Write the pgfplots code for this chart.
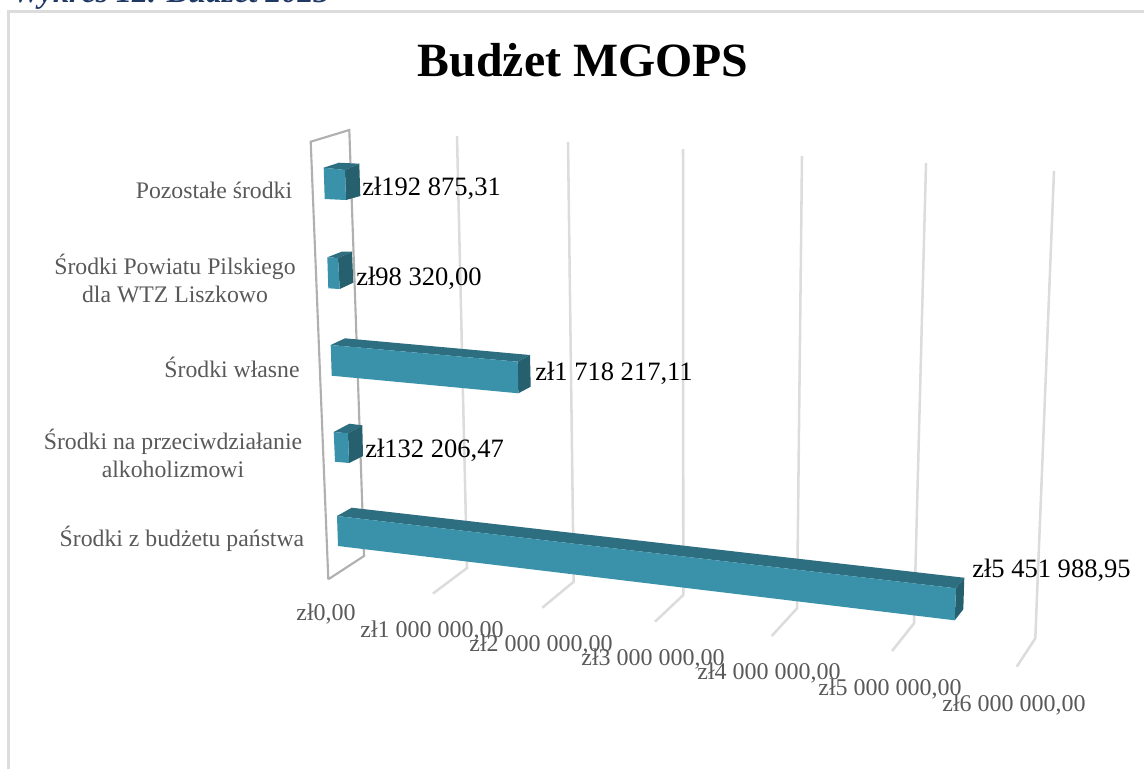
\documentclass[border=0pt]{standalone}
\usepackage{pgfplots}
\pgfplotsset{compat=1.18}
\usepackage{fontspec}
\setmainfont{Liberation Serif}
\definecolor{front}{RGB}{58,146,170}
\definecolor{topf}{RGB}{45,110,128}
\definecolor{sidef}{RGB}{38,95,110}
\definecolor{gridc}{RGB}{220,220,220}
\definecolor{wall}{RGB}{176,176,176}
\definecolor{lab}{RGB}{89,89,89}
\definecolor{navy}{RGB}{31,56,100}
\newcommand{\fcat}{\fontsize{17.8}{21}\selectfont}
\newcommand{\ftic}{\fontsize{18}{21}\selectfont}
\newcommand{\fdat}{\fontsize{19.9}{23}\selectfont}
\tikzset{
  cat/.style={text=lab,font=\fcat,align=center,anchor=center,inner sep=0pt},
  tic/.style={text=lab,font=\ftic,anchor=base,inner sep=0pt},
  dat/.style={text=black,font=\fdat,anchor=base west,inner sep=0pt},
}
\begin{document}
\begin{tikzpicture}
\begin{axis}[
  scale only axis, width=858pt, height=576.75pt,
  xmin=0, xmax=1144, ymin=0, ymax=769, y dir=reverse,
  axis lines=none, clip=false, enlargelimits=false,
]
% chart frame
\addplot[gridc,line width=1.6pt] coordinates {(8.5,769) (8.5,11.5) (1144,11.5)};
% gridlines: top, bend, foot
\addplot[gridc,line width=1.9pt] coordinates {(457,136) (467,568) (433,593.5)};
\addplot[gridc,line width=1.9pt] coordinates {(568,142) (573.7,581.7) (542.3,607.7)};
\addplot[gridc,line width=1.9pt] coordinates {(683,149) (683.3,595) (655,621.7)};
\addplot[gridc,line width=1.9pt] coordinates {(802,156) (797,608.3) (771.7,636)};
\addplot[gridc,line width=1.9pt] coordinates {(926,163) (914,623.3) (892,651)};
\addplot[gridc,line width=1.9pt] coordinates {(1054,171) (1035.3,638.3) (1016.7,666.7)};
% wall
\addplot[wall,line width=1.6pt] coordinates {(328.3,579.3) (310.7,141.7) (349.3,130) (364,556) (328.3,579.3)};
% Środki z budżetu państwa
\addplot[fill=topf,draw=none] coordinates {(337,516) (351.7,507.7) (964.3,577.7) (956,588.3)} --cycle;
\addplot[fill=sidef,draw=none] coordinates {(956,588.3) (964.3,577.7) (963.3,609.3) (954.7,620.3)} --cycle;
\addplot[fill=front,draw=none] coordinates {(337,516) (956,588.3) (954.7,620.3) (338,546)} --cycle;
% Środki na przeciwdziałanie
\addplot[fill=topf,draw=none] coordinates {(333.7,432) (349.3,423.7) (362.3,425.3) (348,433.3)} --cycle;
\addplot[fill=sidef,draw=none] coordinates {(348,433.3) (362.3,425.3) (363,456) (349,463)} --cycle;
\addplot[fill=front,draw=none] coordinates {(333.7,432) (348,433.3) (349,463) (335,461.7)} --cycle;
% Środki własne
\addplot[fill=topf,draw=none] coordinates {(330.7,345) (345,338.3) (530,355) (517.7,361.7)} --cycle;
\addplot[fill=sidef,draw=none] coordinates {(517.7,361.7) (530,355) (530.7,386.7) (518.3,393.3)} --cycle;
\addplot[fill=front,draw=none] coordinates {(330.7,345) (517.7,361.7) (518.3,393.3) (331.7,375.7)} --cycle;
% Środki Powiatu Pilskiego
\addplot[fill=topf,draw=none] coordinates {(327.3,257.3) (341.7,251.7) (352,251.7) (338,258)} --cycle;
\addplot[fill=sidef,draw=none] coordinates {(338,258) (352,251.7) (353.3,282.7) (339.7,289)} --cycle;
\addplot[fill=front,draw=none] coordinates {(327.3,257.3) (338,258) (339.7,289) (328.3,288.3)} --cycle;
% Pozostałe środki
\addplot[fill=topf,draw=none] coordinates {(323.7,167.7) (339,162.7) (359.3,163.7) (345,170)} --cycle;
\addplot[fill=sidef,draw=none] coordinates {(345,170) (359.3,163.7) (360.3,196) (346,200)} --cycle;
\addplot[fill=front,draw=none] coordinates {(323.7,167.7) (345,170) (346,200) (324.7,199)} --cycle;
% texts
\node[anchor=base west,inner sep=0pt,text=navy,font=\fontsize{24}{26}\selectfont\bfseries\itshape] at (axis cs:12,2) {Wykres 12. Budżet 2023};
\node[anchor=base,inner sep=0pt,font=\fontsize{35.8}{40}\selectfont\bfseries] at (axis cs:583,76) {Budżet MGOPS};
\node[cat] at (axis cs:214,190) {Pozostałe środki};
\node[cat] at (axis cs:175,278) {Środki Powiatu Pilskiego\\dla WTZ Liszkowo};
\node[cat] at (axis cs:232,367) {Środki własne};
\node[cat] at (axis cs:173,453) {Środki na przeciwdziałanie\\alkoholizmowi};
\node[cat] at (axis cs:182,539) {Środki z budżetu państwa};
\node[tic] at (axis cs:326,620) {zł0,00};
\node[tic] at (axis cs:432,637) {zł1 000 000,00};
\node[tic] at (axis cs:541,651) {zł2 000 000,00};
\node[tic] at (axis cs:653,665) {zł3 000 000,00};
\node[tic] at (axis cs:769,679) {zł4 000 000,00};
\node[tic] at (axis cs:890,695) {zł5 000 000,00};
\node[tic] at (axis cs:1014,711) {zł6 000 000,00};
\node[dat] at (axis cs:362,195) {zł192 875,31};
\node[dat] at (axis cs:356,285) {zł98 320,00};
\node[dat] at (axis cs:535,380) {zł1 718 217,11};
\node[dat] at (axis cs:365,457) {zł132 206,47};
\node[dat] at (axis cs:972,577) {zł5 451 988,95};
\end{axis}
\pgfresetboundingbox
\path[use as bounding box] (0,0) rectangle (858pt,576.75pt);
\end{tikzpicture}
\end{document}
